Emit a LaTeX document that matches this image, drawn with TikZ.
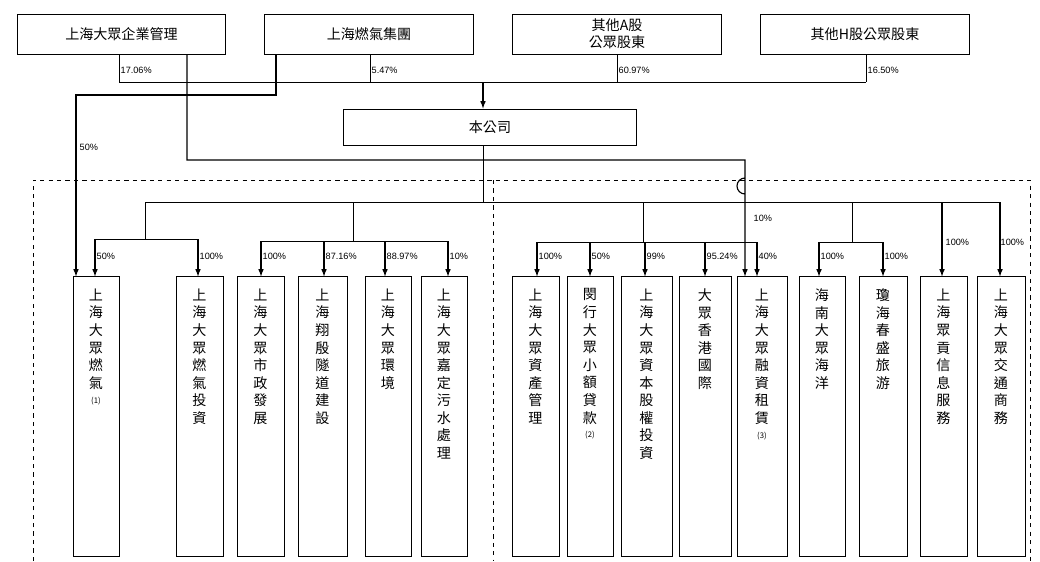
\documentclass[tikz,border=0pt]{standalone}
\usepackage{fontspec}
\setmainfont{Liberation Sans}
\newfontfamily\cjk{Noto Sans CJK TC}
\begin{document}
\begin{tikzpicture}[x=0.025cm, y=-0.025cm,
    box/.style={draw, line width=0.7pt, inner sep=0pt, font=\cjk\fontsize{10}{12}\selectfont, align=center},
    sub/.style={draw, line width=0.7pt, inner sep=0pt, minimum height=6.975cm},
    vt/.style={anchor=north, align=center, inner sep=0pt, font=\cjk\fontsize{10}{12.5}\selectfont},
    pct/.style={font=\fontsize{6.5}{7}\selectfont, inner sep=1pt},
    arr/.style={-latex, line width=0.8pt},
    ln/.style={line width=0.7pt}]
    \useasboundingbox (0,0) rectangle (1040,561);

    % shareholders
    \node[box, minimum width=5.175cm, minimum height=1cm] (s1) at (121.5,34) {上海大眾企業管理};
    \node[box, minimum width=5.2cm, minimum height=1cm] (s2) at (369,34) {上海燃氣集團};
    \node[box, minimum width=5.2cm, minimum height=1cm] (s3) at (617,34) {其他A股\\公眾股東};
    \node[box, minimum width=5.2cm, minimum height=1cm] (s4) at (865,34) {其他H股公眾股東};
    \node[box, minimum width=7.3cm, minimum height=0.9cm] (co) at (490,127) {本公司};

    \coordinate (top) at (483,82);
    \draw[ln] (119,54) -- (119,82) -- (866,82);
    \draw[ln] (370,54) -- (370,82);
    \draw[ln] (617,54) -- (617,82);
    \draw[ln] (866,54) -- (866,82);
    \node[pct, anchor=west] at (119,70) {17.06\%};
    \node[pct, anchor=west] at (370,70) {5.47\%};
    \node[pct, anchor=west] at (617,70) {60.97\%};
    \node[pct, anchor=west] at (866,70) {16.50\%};
    \draw[arr] (top) -- (top |- co.north);

    % dashed frames
    \draw[dashed, line width=0.6pt] (33,561) -- (33,180) -- (1030,180) -- (1030,561);
    \draw[dashed, line width=0.6pt] (493,180) -- (493,561);

    % subsidiaries
    \foreach \n/\l/\r/\t in {
        b1/73/119/{上\\海\\大\\眾\\燃\\氣\\[-2pt]{\fontsize{5.5}{6}\selectfont(1)}},
        b2/176/223/{上\\海\\大\\眾\\燃\\氣\\投\\資},
        b3/237/284/{上\\海\\大\\眾\\市\\政\\發\\展},
        b4/298/347/{上\\海\\翔\\殷\\隧\\道\\建\\設},
        b5/365/411/{上\\海\\大\\眾\\環\\境},
        b6/421/467/{上\\海\\大\\眾\\嘉\\定\\污\\水\\處\\理},
        b7/512/559/{上\\海\\大\\眾\\資\\產\\管\\理},
        b8/567/613/{閔\\行\\大\\眾\\小\\額\\貸\\款\\[-2pt]{\fontsize{5.5}{6}\selectfont(2)}},
        b9/621/672/{上\\海\\大\\眾\\資\\本\\股\\權\\投\\資},
        b10/679/731/{大\\眾\\香\\港\\國\\際},
        b11/737/787/{上\\海\\大\\眾\\融\\資\\租\\賃\\[-2pt]{\fontsize{5.5}{6}\selectfont(3)}},
        b12/799/845/{海\\南\\大\\眾\\海\\洋},
        b13/859/907/{瓊\\海\\春\\盛\\旅\\游},
        b14/920/967/{上\\海\\眾\\貢\\信\\息\\服\\務},
        b15/977/1025/{上\\海\\大\\眾\\交\\通\\商\\務}} {
        \node[sub, minimum width={(\r-\l)*0.025cm}] (\n) at ({(\l+\r)/2},416.5) {};
        \node[vt] (\n t) at ([yshift=-0.3cm]\n.north) {\t};
    }

    % main bar
    \coordinate (bar) at (483,202);
    \draw[ln] (co.south -| bar) -- (bar);
    \draw[ln] (145,202) -- (1000,202);
    \draw[ln] (145,202) -- (145,239) (95,239) -- (198,239);
    \draw[ln] (353,202) -- (353,241) (261,241) -- (448,241);
    \draw[ln] (643,202) -- (643,242) (537,242) -- (757,242);
    \draw[ln] (852,202) -- (852,242) (819,242) -- (883,242);

    % links from shareholders
    \draw[arr] (276,54) -- (276,95) -- (76,95) -- (76,0 |- b1.north);
    \node[pct, anchor=west] at (78,147) {50\%};
    \draw[arr] (187,54) -- (187,160) -- (745,160) -- (745,194)
        arc[start angle=90, end angle=270, radius=8] -- (745,0 |- b11.north);
    \node[pct, anchor=west] at (752,218) {10\%};

    % arrows into subsidiaries
    \foreach \x/\y/\b/\p in {95/239/b1/50, 198/239/b2/100, 261/241/b3/100, 324/241/b4/87.16,
        385/241/b5/88.97, 448/241/b6/10, 537/242/b7/100, 590/242/b8/50, 645/242/b9/99,
        705/242/b10/95.24, 757/242/b11/40, 819/242/b12/100, 883/242/b13/100} {
        \draw[arr] (\x,\y) -- (\x,0 |- \b.north);
        \node[pct, anchor=west] at (\x,256) {\p\%};
    }
    \draw[arr] (942,202) -- (942,0 |- b14.north);
    \node[pct, anchor=west] at (944,242) {100\%};
    \draw[arr] (1000,202) -- (1000,0 |- b15.north);
    \node[pct, anchor=west] at (999,242) {100\%};
\end{tikzpicture}
\end{document}
